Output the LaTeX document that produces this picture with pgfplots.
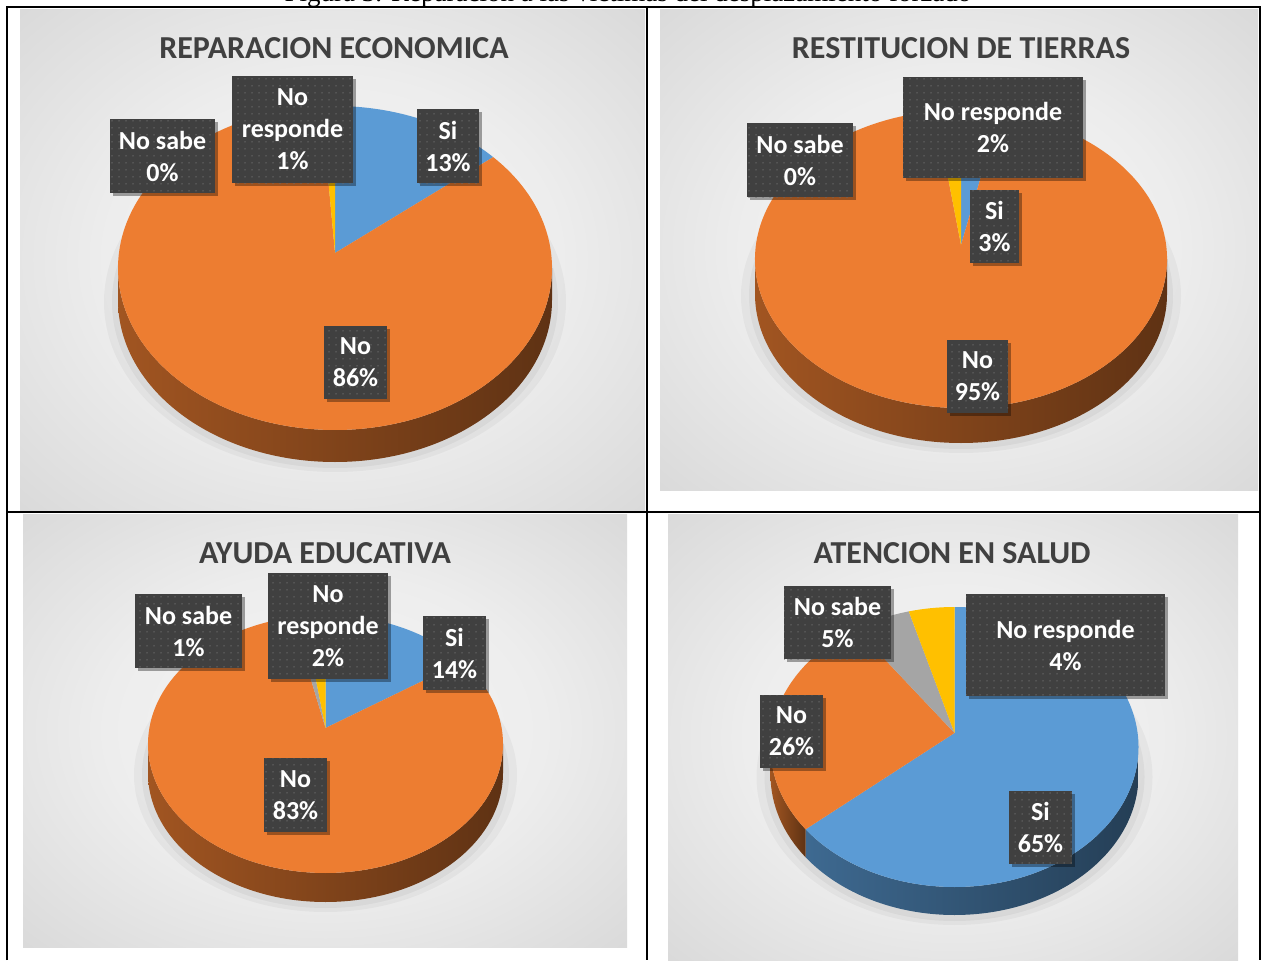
\documentclass[border=0pt]{standalone}
\usepackage{pgfplots}
\pgfplotsset{compat=1.18}
\usepackage{pgfplotstable}
\usepackage{fontspec}
\setmainfont{Carlito}
\newfontfamily\serifcap{Liberation Serif}
\usetikzlibrary{shadows,patterns.meta}

\definecolor{cSi}{HTML}{5B9BD5}
\definecolor{cNo}{HTML}{ED7D31}
\definecolor{cNS}{HTML}{A5A5A5}
\definecolor{cNR}{HTML}{FFC000}
\definecolor{lblbg}{HTML}{404040}
\definecolor{ttl}{HTML}{404040}

\pgfdeclareradialshading{panelshade}{\pgfpoint{0bp}{0bp}}{%
  color(0bp)=(white!96!black); color(18bp)=(white!93!black);
  color(50bp)=(black!21); color(72bp)=(black!25)}

% percentages (Si, No, No sabe, No responde) for each chart
\pgfplotstableread{
cat        REP RES AYU ATE
Si         13  3   14  65
No         86  95  83  26
NoSabe     0   0   1   5
NoResponde 1   2   2   4
}\piedata

% #1 column, #2 cx, #3 cy, #4 rx, #5 ry, #6 depth, #7 apex offset
\newcommand{\drawpie}[7]{%
  \pgfmathsetmacro\shy{#3+#6+2}%
  \pgfmathsetmacro\shrx{#4+14}%
  \pgfmathsetmacro\shry{#5+8}%
  \fill[black,opacity=0.035] (axis cs:#2,\shy) ellipse[x radius=\shrx bp, y radius=\shry bp];
  \pgfmathsetmacro\shrx{#4+6}%
  \pgfmathsetmacro\shry{#5+4}%
  \fill[black,opacity=0.045] (axis cs:#2,\shy) ellipse[x radius=\shrx bp, y radius=\shry bp];
  % sides
  \xdef\curang{90}%
  \foreach \ii/\sc in {0/cSi,1/cNo,2/cNS,3/cNR}{%
    \pgfplotstablegetelem{\ii}{#1}\of\piedata
    \pgfmathsetmacro\va{\curang}%
    \pgfmathsetmacro\vb{\curang-3.6*\pgfplotsretval}%
    \xdef\curang{\vb}%
    \pgfmathsetmacro\sa{max(\vb,-180)}%
    \pgfmathsetmacro\sb{min(\va,0)}%
    \pgfmathtruncatemacro\vis{\sa<\sb ? 1 : 0}%
    \ifnum\vis=1
      \pgfmathsetmacro\px{#2+#4*cos(\sa)}%
      \pgfmathsetmacro\py{#3-#5*sin(\sa)}%
      \shade[left color=\sc!68!black, middle color=\sc!45!black, right color=\sc!40!black]
        (axis cs:\px,\py) arc[start angle=\sa, end angle=\sb, x radius=#4 bp, y radius=#5 bp]
        -- ++(0bp,-#6 bp) arc[start angle=\sb, end angle=\sa, x radius=#4 bp, y radius=#5 bp] -- cycle;
    \fi
  }%
  % top faces
  \pgfmathsetmacro\apy{#3-#7}%
  \xdef\curang{90}%
  \foreach \ii/\sc in {0/cSi,1/cNo,2/cNS,3/cNR}{%
    \pgfplotstablegetelem{\ii}{#1}\of\piedata
    \pgfmathsetmacro\va{\curang}%
    \pgfmathsetmacro\vb{\curang-3.6*\pgfplotsretval}%
    \xdef\curang{\vb}%
    \pgfmathtruncatemacro\pos{\pgfplotsretval>0 ? 1 : 0}%
    \ifnum\pos=1
      \pgfmathsetmacro\px{#2+#4*cos(\va)}%
      \pgfmathsetmacro\py{#3-#5*sin(\va)}%
      \fill[\sc] (axis cs:#2,\apy) -- (axis cs:\px,\py)
        arc[start angle=\va, end angle=\vb, x radius=#4 bp, y radius=#5 bp] -- cycle;
    \fi
  }%
}

% label box: x1 y1 x2 y2 text
\newcommand{\lbl}[5]{%
  \pgfmathsetmacro\lx{(#1+#3)/2}%
  \pgfmathsetmacro\ly{(#2+#4)/2}%
  \pgfmathsetmacro\lw{#3-#1}%
  \pgfmathsetmacro\lh{#4-#2}%
  \node[lblstyle, minimum width=\lw bp, minimum height=\lh bp] at (axis cs:\lx,\ly) {#5};
}

\tikzset{
  lblstyle/.style={fill=lblbg, text=white, inner sep=0pt, align=center,
    font=\fontsize{26bp}{32bp}\selectfont\bfseries,
    drop shadow={shadow xshift=3bp, shadow yshift=-3bp, opacity=0.35, fill=black},
    postaction={pattern={Dots[distance=7bp, radius=0.75bp]}, pattern color=black!58}},
  ttlstyle/.style={text=ttl, inner sep=0pt, font=\fontsize{32bp}{38bp}\selectfont\bfseries}
}

\begin{document}
\begin{tikzpicture}
\begin{axis}[
  width=1261bp, height=960bp, scale only axis,
  xmin=0, xmax=1261, ymin=0, ymax=960, y dir=reverse,
  hide axis, clip=false]
\pgfplotsextra{
  \fill[white] (axis cs:0,0) rectangle (axis cs:1261,960);
  % caption (cut off at the top)
  \begin{scope}
    \clip (axis cs:0,0) rectangle (axis cs:1261,6);
    \node[anchor=base, inner sep=0pt, font=\serifcap\fontsize{27bp}{30bp}\selectfont] at (axis cs:628,1) {Figura 3. Reparación a las víctimas del desplazamiento forzado};
  \end{scope}
  % panels
  \shade[shading=panelshade] (axis cs:20,9) rectangle (axis cs:645,510);
  \shade[shading=panelshade] (axis cs:660,9) rectangle (axis cs:1258,490);
  \shade[shading=panelshade] (axis cs:23,514) rectangle (axis cs:627,947);
  \shade[shading=panelshade] (axis cs:668,514) rectangle (axis cs:1238,960);
  % table lines
  \draw[line width=2bp] (axis cs:7,960) -- (axis cs:7,7) -- (axis cs:1260,7) -- (axis cs:1260,960);
  \draw[line width=2bp] (axis cs:647,7) -- (axis cs:647,960);
  \draw[line width=2bp] (axis cs:7,512) -- (axis cs:1260,512);
  % titles
  \node[ttlstyle] at (axis cs:334,48) {REPARACION ECONOMICA};
  \node[ttlstyle] at (axis cs:961,48) {RESTITUCION DE TIERRAS};
  \node[ttlstyle] at (axis cs:325,553) {AYUDA EDUCATIVA};
  \node[ttlstyle] at (axis cs:952,553) {ATENCION EN SALUD};
  % pies
  \drawpie{REP}{335}{268}{217}{162}{32}{15}
  \drawpie{RES}{961}{259}{206}{149}{35}{14}
  \drawpie{AYU}{325.5}{744}{177.5}{129}{29}{16}
  \drawpie{ATE}{954.5}{747}{184}{140}{28}{14}
  % labels
  \lbl{110}{119}{215}{193}{No sabe\\0\%}
  \lbl{232}{76}{353}{183}{No\\responde\\1\%}
  \lbl{417}{109}{479}{183}{Si\\13\%}
  \lbl{324}{326}{387}{399}{No\\86\%}
  \lbl{747}{123}{853}{197}{No sabe\\0\%}
  \lbl{903}{77}{1083}{178}{No responde\\2\%}
  \lbl{970}{190}{1019}{263}{Si\\3\%}
  \lbl{947}{340}{1008}{413}{No\\95\%}
  \lbl{135}{594}{242}{668}{No sabe\\1\%}
  \lbl{268}{573}{388}{679}{No\\responde\\2\%}
  \lbl{423}{616}{486}{690}{Si\\14\%}
  \lbl{264}{758}{327}{832}{No\\83\%}
  \lbl{784}{586}{891}{659}{No sabe\\5\%}
  \lbl{966}{594}{1165}{696}{No responde\\4\%}
  \lbl{760}{695}{823}{768}{No\\26\%}
  \lbl{1009}{791}{1072}{864}{Si\\65\%}
}
\end{axis}
\end{tikzpicture}
\end{document}
